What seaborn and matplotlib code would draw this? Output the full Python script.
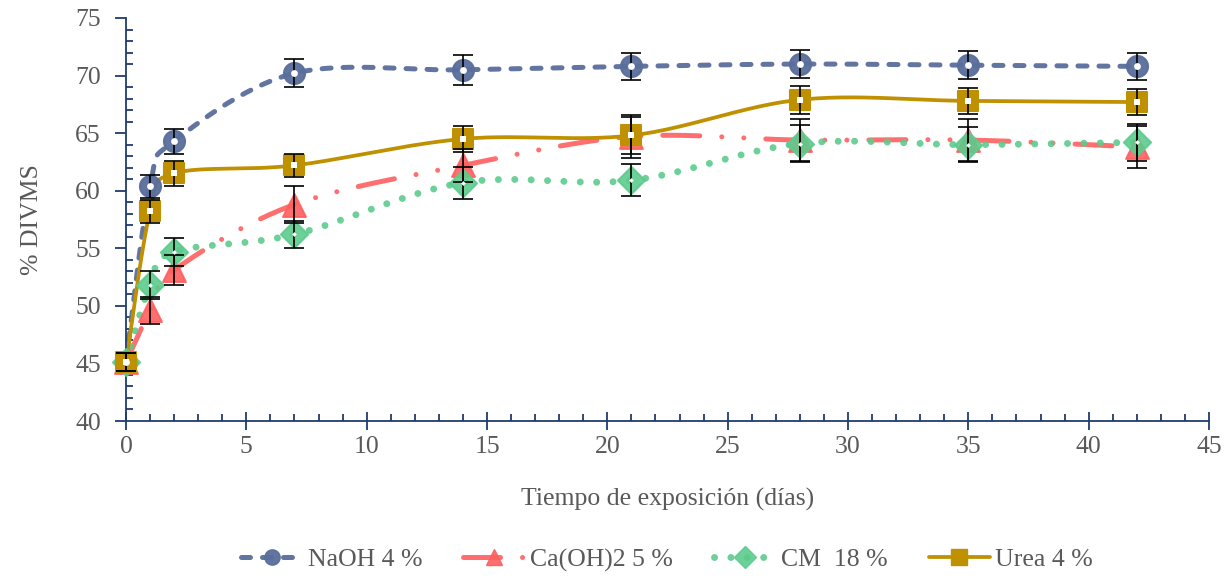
import numpy as np
import pandas as pd
import matplotlib
matplotlib.use("Agg")
import matplotlib.pyplot as plt
from matplotlib.lines import Line2D
from matplotlib.ticker import MultipleLocator
import seaborn as sns

days = [0, 1, 2, 7, 14, 21, 28, 35, 42]
naoh = [45.1, 60.4, 64.3, 70.2, 70.5, 70.8, 71.0, 70.9, 70.8]
caoh = [45.1, 49.6, 53.1, 58.8, 62.2, 64.7, 64.4, 64.4, 63.8]
cm = [45.1, 51.8, 54.7, 56.2, 60.7, 60.9, 64.1, 64.0, 64.2]
urea = [45.1, 58.2, 61.5, 62.2, 64.5, 64.8, 67.9, 67.8, 67.7]
err_naoh = [0.8, 1.0, 1.1, 1.2, 1.3, 1.2, 1.2, 1.2, 1.2]
err_caoh = [0.8, 1.2, 1.3, 1.6, 1.4, 1.9, 1.8, 1.8, 1.8]
err_cm = [0.8, 1.2, 1.2, 1.2, 1.4, 1.4, 1.6, 1.5, 1.6]
err_urea = [0.8, 1.0, 1.1, 1.0, 1.1, 1.6, 1.2, 1.1, 1.1]
labels = ["NaOH 4 %", "Ca(OH)2 5 %", "CM  18 %", "Urea 4 %"]

colors = ["#5A6E9C", "#FF5F5F", "#5CCB8D", "#BF9000"]

sns.set_theme(style="white")
plt.rcParams['font.family'] = ['Liberation Serif', 'DejaVu Serif']

fig = plt.figure(figsize=(12.29, 5.78), dpi=100)
ax = fig.add_axes([126/1229, 1-421/578, (1209-126)/1229, (421-18)/578])


def smooth(xs, ys, n=30):
    # Bezier smoothing (Catmull-Rom style) through the data points
    x = np.asarray(xs, float)
    y = np.asarray(ys, float)
    px = np.concatenate([[x[0]], x, [x[-1]]])
    py = np.concatenate([[y[0]], y, [y[-1]]])
    ox, oy = [], []
    t = np.linspace(0, 1, n)
    for i in range(1, len(px) - 2):
        p0 = np.array([px[i], py[i]])
        p3 = np.array([px[i+1], py[i+1]])
        b1 = p0 + (np.array([px[i+1], py[i+1]]) - np.array([px[i-1], py[i-1]])) / 6
        b2 = p3 - (np.array([px[i+2], py[i+2]]) - np.array([px[i], py[i]])) / 6
        for tt in t:
            pt = ((1-tt)**3)*p0 + 3*((1-tt)**2)*tt*b1 + 3*(1-tt)*tt**2*b2 + tt**3*p3
            ox.append(pt[0]); oy.append(pt[1])
    return ox, oy

series = [naoh, caoh, cm, urea]
errs = [err_naoh, err_caoh, err_cm, err_urea]
markers = ["o", "^", "D", "s"]
sizes = [230, 270, 190, 210]
styles = [
    dict(lw=3.6, dashes=[1.8, 2.4]),
    dict(lw=3.6, dashes=[7.4, 4.4, 0.01, 4.4, 0.01, 4.4]),
    dict(lw=5.0, dashes=[0.01, 2.35]),
    dict(lw=2.7, dashes=None),
]
alphas = [0.95, 0.9, 0.9, 1.0]

for vals, c, st, a in zip(series, colors, styles, alphas):
    sx, sy = smooth(days, vals)
    ln, = ax.plot(sx, sy, color=c, lw=st["lw"], alpha=a, zorder=2,
                  solid_capstyle="round", dash_capstyle="round")
    if st["dashes"] is not None:
        ln.set_dashes(st["dashes"])

for vals, c, m, s, a, lab in zip(series, colors, markers, sizes, alphas, labels):
    df = pd.DataFrame({"dias": days, "v": vals})
    sns.scatterplot(data=df, x="dias", y="v", marker=m, s=s, color=c,
                    edgecolor=c, linewidth=1.5, alpha=a, ax=ax, zorder=3,
                    clip_on=False)

for vals, e in zip(series, errs):
    ax.errorbar(days, vals, yerr=e, fmt="none", ecolor="black", elinewidth=1.2,
                capsize=7, capthick=1.2, zorder=4, clip_on=False)

# white centers
centers = [("o", 24, naoh), ("s", 24, urea), ("D", 6, cm)]
for m, s, vals in centers:
    ax.scatter(days, vals, marker=m, s=s, color="white", linewidths=0, zorder=5,
               clip_on=False)

ax.set_xlim(0, 45)
ax.set_ylim(40, 75)
ax.xaxis.set_major_locator(MultipleLocator(5))
ax.xaxis.set_minor_locator(MultipleLocator(1))
ax.yaxis.set_major_locator(MultipleLocator(5))
ax.yaxis.set_minor_locator(MultipleLocator(1))

axcol = "#1F3B70"
for sp in ["top", "right"]:
    ax.spines[sp].set_visible(False)
for sp in ["left", "bottom"]:
    ax.spines[sp].set_color(axcol)
    ax.spines[sp].set_linewidth(1.3)

ax.tick_params(axis="x", which="major", direction="inout", length=13, width=1.3,
               color=axcol, labelsize=18.5, labelcolor="#595959", pad=4)
ax.tick_params(axis="y", which="major", direction="out", length=8, width=1.3,
               color=axcol, labelsize=18.5, labelcolor="#595959", pad=10)
ax.tick_params(axis="both", which="minor", direction="in", length=5, width=1.3,
               color=axcol)
ax.xaxis.set_ticks_position("bottom")
ax.yaxis.set_ticks_position("left")
ax.minorticks_on()
ax.grid(False)

ax.set_xlabel("Tiempo de exposición (días)", fontsize=18.5, color="#595959", labelpad=22)
ax.set_ylabel("% DIVMS", fontsize=18.5, color="#595959", labelpad=23)

handles = []
for c, m, st, a, lab in zip(colors, markers, styles, alphas, labels):
    h = Line2D([0], [0], color=c, lw=st["lw"], marker=m, markersize=11,
               markerfacecolor=c, markeredgecolor=c, alpha=a,
               dash_capstyle="round", solid_capstyle="round")
    if st["dashes"] is not None:
        h.set_dashes(st["dashes"])
    handles.append(h)

leg = fig.legend(handles, labels, loc="center", bbox_to_anchor=(667/1229, 1-560/578),
                 ncol=4, frameon=False, fontsize=18.5, handlelength=2.4,
                 columnspacing=1.6, handletextpad=0.2)
for t in leg.get_texts():
    t.set_color("#595959")

fig.savefig("out.png", dpi=100, facecolor="white")
